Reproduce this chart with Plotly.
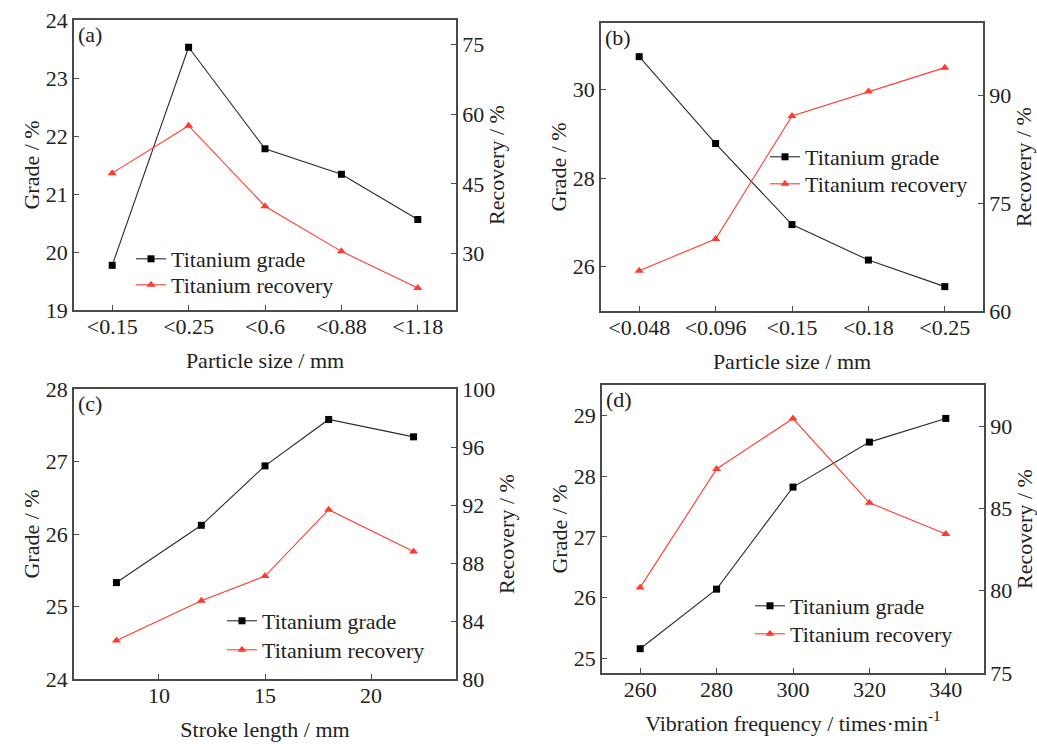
import plotly.graph_objects as go

# ---------------- data ----------------
a_cats = ["<0.15", "<0.25", "<0.6", "<0.88", "<1.18"]
a_grade = [19.77, 23.53, 21.78, 21.34, 20.56]
a_recovery = [47.3, 57.5, 40.2, 30.5, 22.6]

b_cats = ["<0.048", "<0.096", "<0.15", "<0.18", "<0.25"]
b_grade = [30.74, 28.78, 26.95, 26.15, 25.55]
b_recovery = [65.6, 70.0, 87.1, 90.5, 93.8]

c_stroke = [8, 12, 15, 18, 22]
c_grade = [25.33, 26.12, 26.94, 27.58, 27.34]
c_recovery = [82.66, 85.39, 87.1, 91.68, 88.8]

d_freq = [260, 280, 300, 320, 340]
d_grade = [25.16, 26.14, 27.82, 28.56, 28.95]
d_recovery = [80.2, 87.4, 90.46, 85.34, 83.45]

GRADE_NAME = "Titanium grade"
REC_NAME = "Titanium recovery"

# ---------------- styles ----------------
W, H = 1037, 744
FONT = "Liberation Serif, Times New Roman, serif"
TXT = "#222222"
FRAME = "#4a4a4a"
BLACK = "#2b2b2b"
RED = "#ff3b2f"
FS = 22


def px_x(p):
    return p / W


def px_y(p):
    return 1 - p / H


fig = go.Figure()

panels = [
    # x, grade, recovery, xaxis id, left y id, right y id, legend ids
    (a_cats, a_grade, a_recovery, "x", "y", "y2", "legend", "legend2"),
    (b_cats, b_grade, b_recovery, "x2", "y3", "y4", "legend3", "legend4"),
    (c_stroke, c_grade, c_recovery, "x3", "y5", "y6", "legend5", "legend6"),
    (d_freq, d_grade, d_recovery, "x4", "y7", "y8", "legend7", "legend8"),
]

for xs, g, r, xa, yl, yr, lg1, lg2 in panels:
    fig.add_trace(go.Scatter(
        x=xs, y=g, name=GRADE_NAME, xaxis=xa, yaxis=yl, legend=lg1,
        mode="lines+markers",
        line=dict(color=BLACK, width=1.1),
        marker=dict(symbol="square", size=7, color="black"),
    ))
    fig.add_trace(go.Scatter(
        x=xs, y=r, name=REC_NAME, xaxis=xa, yaxis=yr, legend=lg2,
        mode="lines+markers",
        line=dict(color=RED, width=1.1),
        marker=dict(symbol="triangle-up", size=8, color=RED),
    ))

axis_common = dict(
    showline=True, linecolor=FRAME, linewidth=1.5,
    ticks="inside", ticklen=5, tickwidth=1.2, tickcolor=FRAME,
    showgrid=False, zeroline=False,
    tickfont=dict(family=FONT, size=FS, color=TXT),
    automargin=False,
)
xcommon = dict(axis_common, ticklabelstandoff=-4, mirror=True)
ycommon = dict(axis_common)

# domains (pixel derived)
dom = {
    "a": ([px_x(74), px_x(456)], [px_y(310), px_y(20)]),
    "b": ([px_x(601), px_x(983)], [px_y(311), px_y(23)]),
    "c": ([px_x(74), px_x(456)], [px_y(679), px_y(389)]),
    "d": ([px_x(602), px_x(984)], [px_y(673), px_y(385)]),
}


def title(text, standoff):
    return dict(text=text, font=dict(family=FONT, size=FS, color=TXT), standoff=standoff)


fig.update_layout(
    # panel (a)
    xaxis=dict(domain=dom["a"][0], anchor="y", type="category", range=[-0.5, 4.5],
               title=title("Particle size / mm", 14), **xcommon),
    yaxis=dict(domain=dom["a"][1], anchor="x", range=[19, 24], dtick=1,
               title=title("Grade / %", 0), **ycommon),
    yaxis2=dict(overlaying="y", anchor="x", side="right", range=[17.9, 80.2],
                tickvals=[30, 45, 60, 75], title=title("Recovery / %", 4), **ycommon),
    # panel (b)
    xaxis2=dict(domain=dom["b"][0], anchor="y3", type="category", range=[-0.5, 4.5],
                title=title("Particle size / mm", 14), **xcommon),
    yaxis3=dict(domain=dom["b"][1], anchor="x2", range=[25, 31.5], tickvals=[26, 28, 30],
                title=title("Grade / %", 0), **ycommon),
    yaxis4=dict(overlaying="y3", anchor="x2", side="right", range=[60, 100],
                tickvals=[60, 75, 90], title=title("Recovery / %", 4), **ycommon),
    # panel (c)
    xaxis3=dict(domain=dom["c"][0], anchor="y5", range=[6, 24], tickvals=[10, 15, 20],
                title=title("Stroke length / mm", 14), **xcommon),
    yaxis5=dict(domain=dom["c"][1], anchor="x3", range=[24, 28], dtick=1,
                title=title("Grade / %", 0), **ycommon),
    yaxis6=dict(overlaying="y5", anchor="x3", side="right", range=[80, 100], dtick=4,
                title=title("Recovery / %", 4), **ycommon),
    # panel (d)
    xaxis4=dict(domain=dom["d"][0], anchor="y7", range=[250, 350], tickvals=[260, 280, 300, 320, 340],
                title=title("Vibration frequency / times·min<sup>-1</sup>", 14), **xcommon),
    yaxis7=dict(domain=dom["d"][1], anchor="x4", range=[24.76, 29.5], dtick=1,
                title=title("Grade / %", 0), **ycommon),
    yaxis8=dict(overlaying="y7", anchor="x4", side="right", range=[75, 92.5],
                tickvals=[75, 80, 85, 90], title=title("Recovery / %", 4), **ycommon),
)

legend_common = dict(
    bgcolor="rgba(0,0,0,0)", borderwidth=0,
    font=dict(family=FONT, size=FS, color=TXT),
    xanchor="left", yanchor="top", itemwidth=30, tracegroupgap=0,
)
legend_pos = {
    "legend": (131, 238), "legend2": (131, 264),
    "legend3": (765, 136), "legend4": (765, 163),
    "legend5": (222, 600), "legend6": (222, 629),
    "legend7": (750, 585), "legend8": (750, 613),
}
fig.update_layout(**{
    name: dict(x=px_x(px), y=px_y(py), **legend_common)
    for name, (px, py) in legend_pos.items()
})

for lab, xr, yr in [("(a)", "x", "y"), ("(b)", "x2", "y3"), ("(c)", "x3", "y5"), ("(d)", "x4", "y7")]:
    fig.add_annotation(
        text=lab, xref=f"{xr} domain", yref=f"{yr} domain", x=0.005, y=1.0,
        xanchor="left", yanchor="top", showarrow=False,
        font=dict(family=FONT, size=FS, color=TXT),
    )

fig.update_layout(
    width=W, height=H,
    margin=dict(l=0, r=0, t=0, b=0),
    paper_bgcolor="white", plot_bgcolor="white",
    showlegend=True,
)

fig.write_html(
    "out.html",
    config={"displayModeBar": False},
    post_script="document.body.style.margin='0';document.body.style.overflow='hidden';",
)
